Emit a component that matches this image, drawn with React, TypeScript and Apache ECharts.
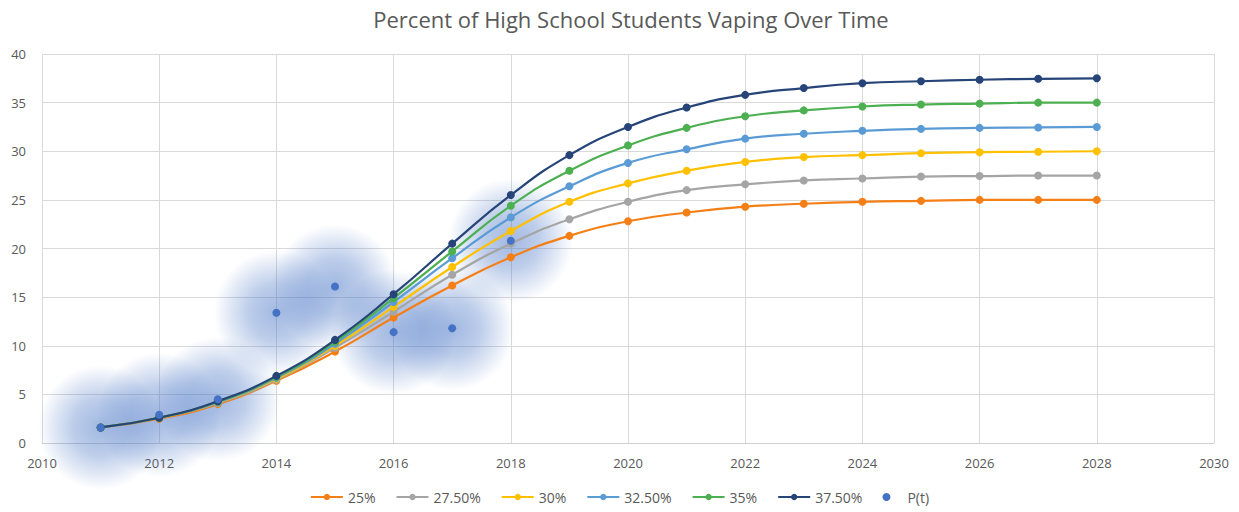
import React, { useEffect, useRef } from "react";
import * as echarts from "echarts";

const years = [2011, 2012, 2013, 2014, 2015, 2016, 2017, 2018, 2019, 2020, 2021, 2022, 2023, 2024, 2025, 2026, 2027, 2028];

const s25 = [1.6, 2.5, 4.0, 6.4, 9.4, 12.9, 16.2, 19.1, 21.3, 22.8, 23.7, 24.3, 24.6, 24.8, 24.9, 25.0, 25.0, 25.0];
const s275 = [1.6, 2.6, 4.1, 6.5, 9.8, 13.5, 17.3, 20.5, 23.0, 24.8, 26.0, 26.6, 27.0, 27.2, 27.4, 27.45, 27.5, 27.5];
const s30 = [1.6, 2.6, 4.2, 6.6, 10.0, 14.0, 18.1, 21.8, 24.8, 26.7, 28.0, 28.9, 29.4, 29.6, 29.8, 29.9, 29.95, 30.0];
const s325 = [1.6, 2.6, 4.2, 6.7, 10.2, 14.5, 19.0, 23.2, 26.4, 28.8, 30.2, 31.3, 31.8, 32.1, 32.3, 32.4, 32.45, 32.5];
const s35 = [1.6, 2.6, 4.25, 6.8, 10.4, 14.9, 19.7, 24.4, 28.0, 30.6, 32.4, 33.6, 34.2, 34.6, 34.8, 34.9, 35.0, 35.0];
const s375 = [1.6, 2.6, 4.3, 6.9, 10.6, 15.3, 20.5, 25.5, 29.6, 32.5, 34.5, 35.8, 36.5, 37.0, 37.2, 37.35, 37.45, 37.5];

const pYears = [2011, 2012, 2013, 2014, 2015, 2016, 2017, 2018];
const pValues = [1.6, 2.9, 4.5, 13.4, 16.1, 11.4, 11.8, 20.8];

const seriesNames = ["25%", "27.50%", "30%", "32.50%", "35%", "37.50%"];
const seriesColors = ["#F57F17", "#A5A5A5", "#FFC000", "#5B9BD5", "#4CAF50", "#264478"];
const seriesData = [s25, s275, s30, s325, s35, s375];
const pColor = "#4472C4";

const xTicks = { min: 2010, max: 2030, interval: 2 };
const yTicks = { min: 0, max: 40, interval: 5 };

export default function App() {
  const ref = useRef<HTMLDivElement>(null);
  useEffect(() => {
    if (!ref.current) return;
    const chart = echarts.init(ref.current, null, { renderer: "svg" });
    const font = "'Open Sans', Lato, sans-serif";
    const lineSeries = seriesNames.map((name, i) => ({
      name,
      type: "line",
      smooth: true,
      symbol: "circle",
      symbolSize: 8,
      z: 3 + i,
      lineStyle: { width: 2.2, color: seriesColors[i] },
      itemStyle: { color: seriesColors[i] },
      data: years.map((y, j) => [y, seriesData[i][j]]),
    }));
    chart.setOption({
      animation: false,
      backgroundColor: "#ffffff",
      textStyle: { fontFamily: font },
      title: {
        text: "Percent of High School Students Vaping Over Time",
        left: 626,
        textAlign: "center",
        top: 3,
        textStyle: { fontSize: 22, fontWeight: "normal", color: "#595959", fontFamily: font },
      },
      legend: {
        bottom: 3,
        left: "center",
        itemWidth: 32,
        itemHeight: 8,
        itemGap: 20,
        data: [...seriesNames, "P(t)"],
        textStyle: { fontSize: 14, color: "#595959", fontFamily: font },
      },
      grid: { left: 42, right: 25, top: 54, bottom: 69, containLabel: false },
      xAxis: {
        type: "value",
        min: xTicks.min,
        max: xTicks.max,
        interval: xTicks.interval,
        axisLine: { show: true, lineStyle: { color: "#d0d0d0" } },
        axisTick: { show: false },
        axisLabel: { color: "#595959", fontSize: 13, margin: 13, formatter: (v: number) => String(v) },
        splitLine: { show: true, lineStyle: { color: "#d9d9d9", width: 1 } },
      },
      yAxis: {
        type: "value",
        min: yTicks.min,
        max: yTicks.max,
        interval: yTicks.interval,
        axisLine: { show: false },
        axisTick: { show: false },
        axisLabel: { color: "#595959", fontSize: 13, margin: 16 },
        splitLine: { show: true, lineStyle: { color: "#d9d9d9", width: 1 } },
      },
      series: [
        {
          name: "glow",
          type: "scatter",
          symbol: "circle",
          symbolSize: 125,
          z: 1,
          silent: true,
          itemStyle: {
            opacity: 1,
            color: {
              type: "radial",
              x: 0.5,
              y: 0.5,
              r: 0.5,
              colorStops: [
                { offset: 0, color: "rgba(68,114,196,0.5)" },
                { offset: 0.45, color: "rgba(68,114,196,0.35)" },
                { offset: 1, color: "rgba(68,114,196,0)" },
              ],
            },
          },
          data: pYears.map((y, j) => [y, pValues[j]]),
        },
        ...lineSeries,
        {
          name: "P(t)",
          type: "scatter",
          symbol: "circle",
          symbolSize: 8,
          z: 10,
          itemStyle: { color: pColor, opacity: 1 },
          data: pYears.map((y, j) => [y, pValues[j]]),
        },
      ],
    });
    return () => chart.dispose();
  }, []);
  return <div ref={ref} style={{ width: 1239, height: 512, position: "absolute", left: 0, top: 0 }} />;
}
